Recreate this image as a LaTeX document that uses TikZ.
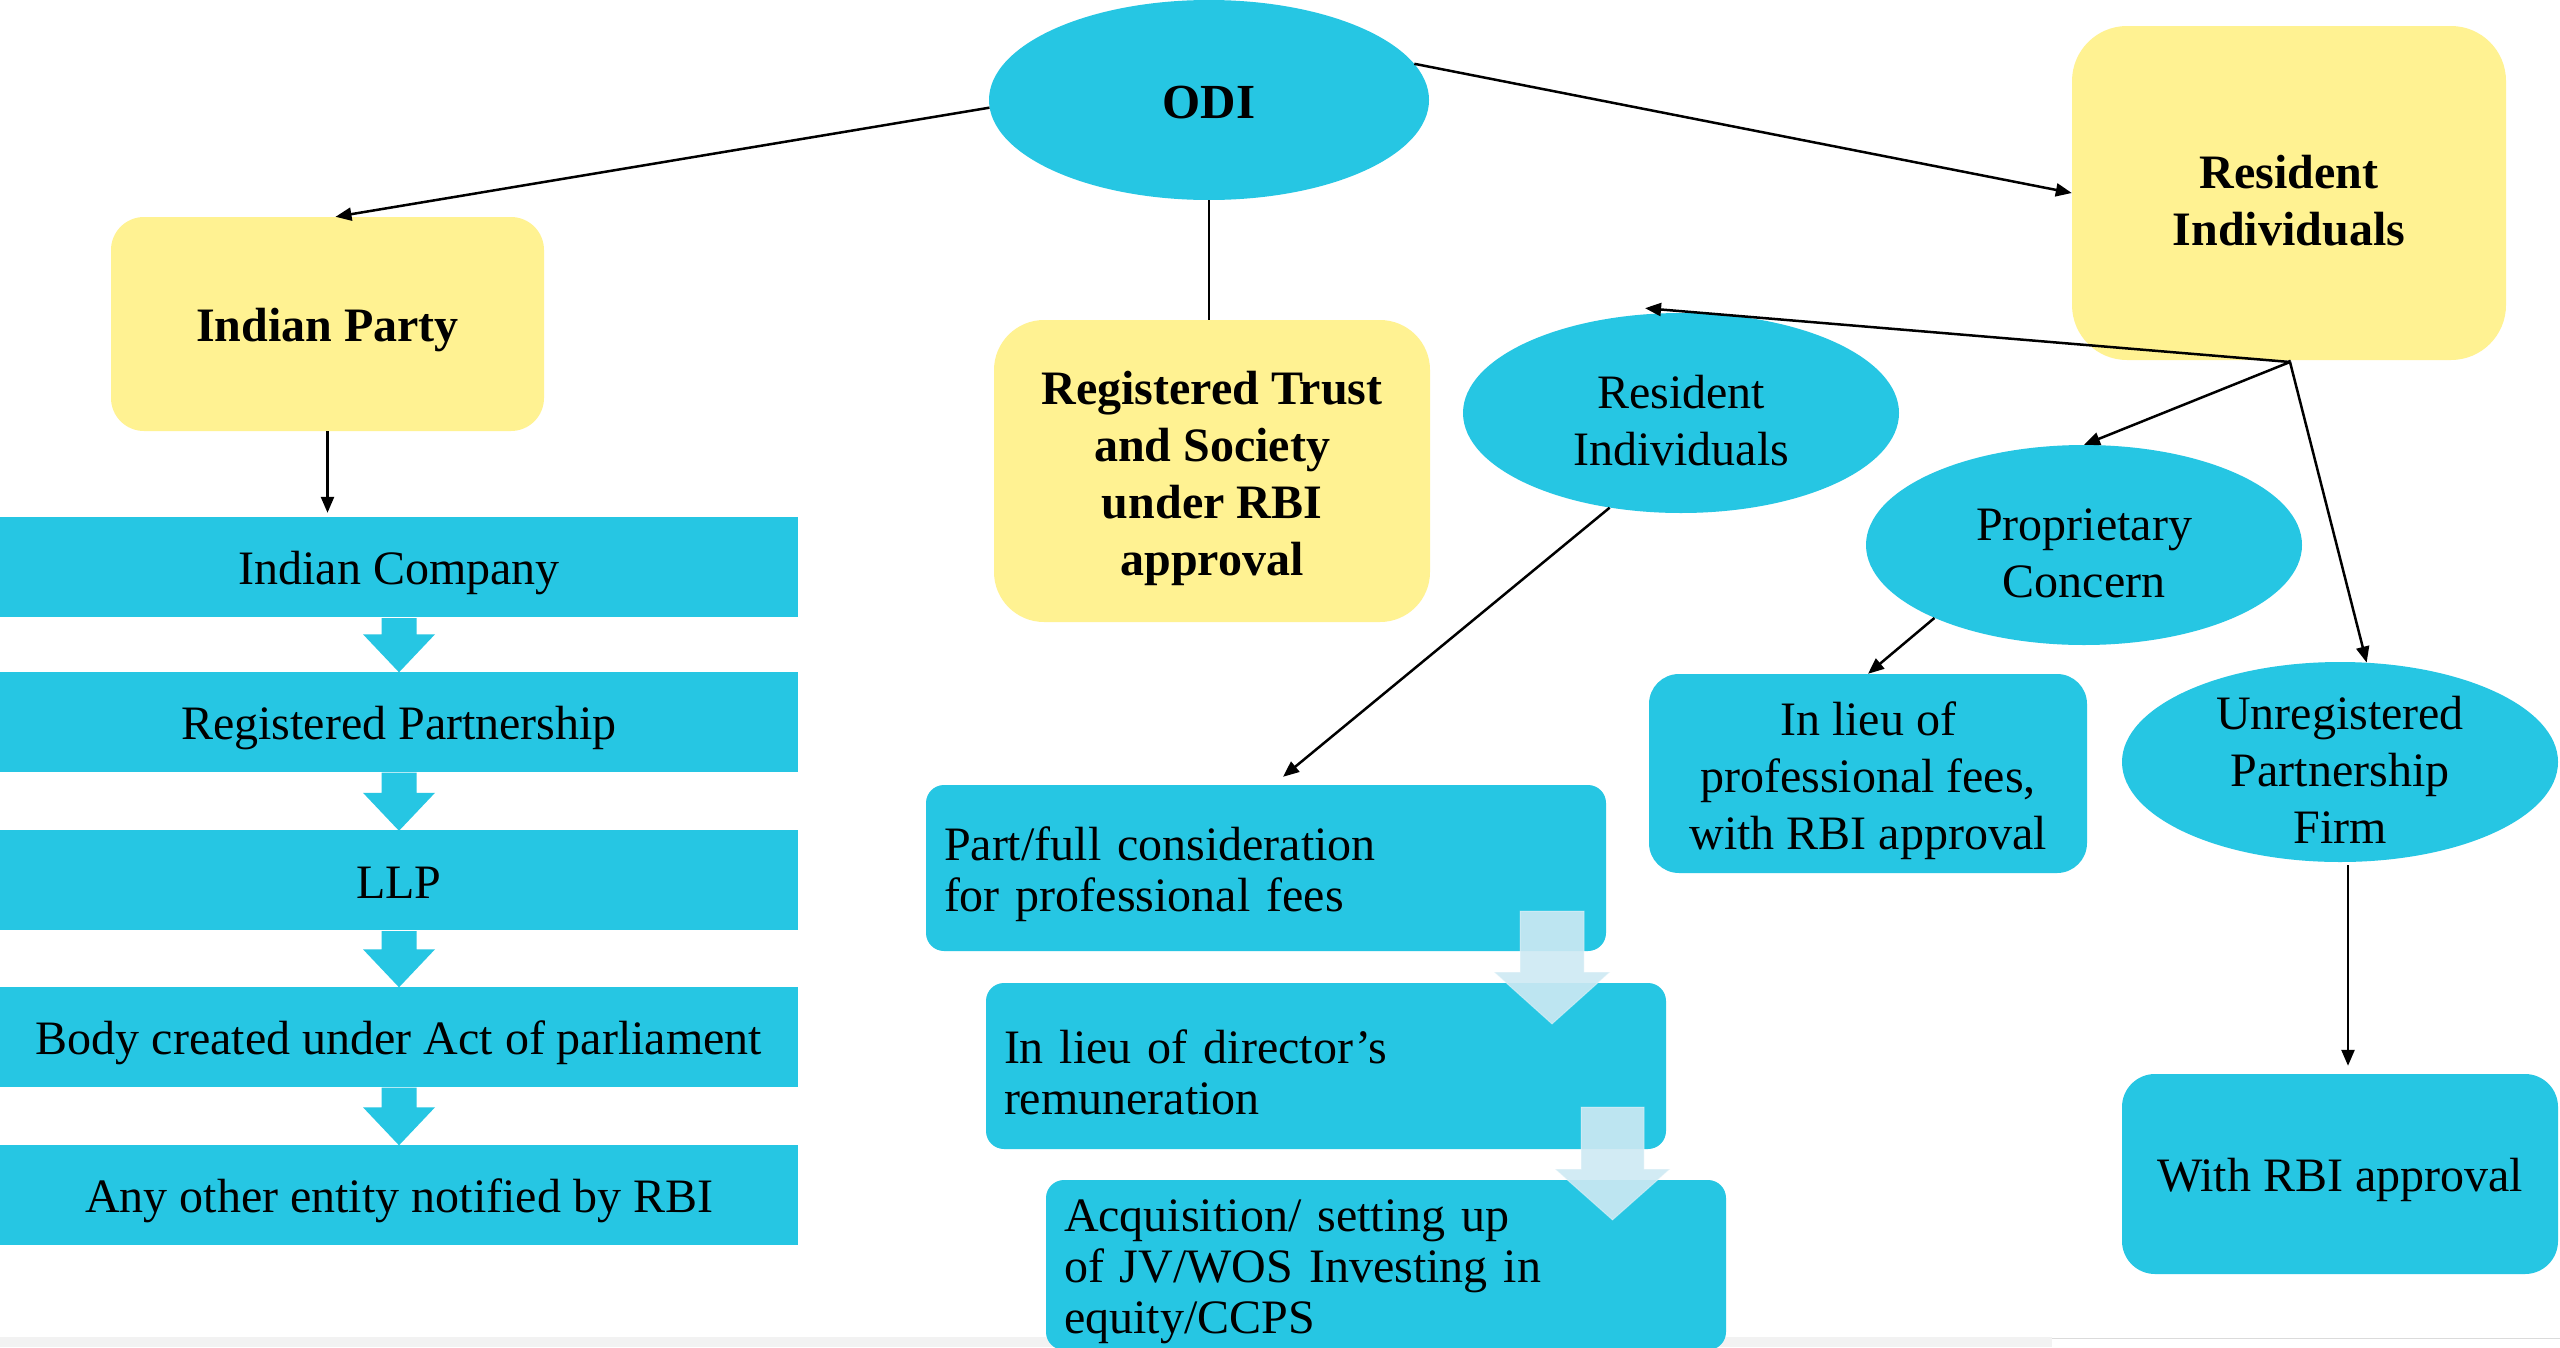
\documentclass[tikz,border=0pt]{standalone}
\usepackage{fontspec}
\setmainfont{Liberation Serif}
\usetikzlibrary{shapes.geometric,arrows.meta,calc}

\definecolor{odiblue}{RGB}{38,198,227}
\definecolor{padyellow}{RGB}{255,242,146}
\definecolor{paleblue}{RGB}{206,233,243}
\definecolor{stripgray}{RGB}{242,242,242}

% tall first-line strut: sets a text block slightly below the centre of its shape
\newcommand{\firststrut}{\rule{0pt}{48pt}}

% solid arrow joining two stacked bars of the left column
\newcommand{\stackarrow}[2]{%
  \fill[odiblue] ($(#1.south)+(-17.5,1)$) -- ($(#1.south)+(17.5,1)$)
    -- ($(#2.north)+(17.5,-37)$) -- ($(#2.north)+(36,-37)$)
    -- ($(#2.north)+(0,1)$) -- ($(#2.north)+(-36,-37)$)
    -- ($(#2.north)+(-17.5,-37)$) -- cycle;}

\begin{document}
\begin{tikzpicture}[x=1pt,y=-1pt,
  every node/.style={inner sep=0pt, text=black, font=\fontsize{48}{57}\selectfont},
  sline/.style={execute at begin node={\rule{0pt}{46pt}},
    execute at end node={\rule[-10pt]{0pt}{10pt}}},
  mline/.style={execute at begin node={\rule{0pt}{46pt}}},
  yellowbox/.style={rectangle, fill=padyellow, rounded corners=#1, align=center,
    font=\fontsize{48}{57}\selectfont\bfseries},
  bar/.style={rectangle, fill=odiblue, minimum width=798pt, minimum height=100pt, sline},
  bluebox/.style={rectangle, fill=odiblue, rounded corners=#1, align=center},
  notebox/.style={rectangle, fill=odiblue, rounded corners=18pt, align=left,
    text width=644pt, inner xsep=18pt, font=\fontsize{48}{51}\selectfont, mline},
  ell/.style={ellipse, fill=odiblue, inner sep=-30pt, align=center,
    minimum width=436pt, minimum height=200pt},
  conn/.style={line width=2.5pt, -{Triangle[length=16pt,width=13pt]}},
  plainline/.style={line width=2.5pt},
  palearrow/.style={fill=paleblue, fill opacity=0.9, draw=white, draw opacity=0.35, line width=1pt}
]
\useasboundingbox (0,0) rectangle (2560,1347);
\fill[white] (0,0) rectangle (2560,1347);

% grey strip along the lower edge
\fill[stripgray] (0,1337) rectangle (2052,1347);
\draw[stripgray!80!gray, line width=1pt] (2052,1338) -- (2560,1338);

% top level
\node[ellipse, fill=odiblue, minimum width=440pt, minimum height=200pt, sline,
      font=\fontsize{49}{57}\selectfont\bfseries] (odi) at (1209,100) {ODI};

\node[yellowbox=33pt, minimum width=433pt, minimum height=214pt, sline] (iparty) at (327.5,324) {Indian Party};
\node[yellowbox=50pt, minimum width=436pt, minimum height=302pt] (trust) at (1212,471)
  {\firststrut Registered Trust\\and Society\\under RBI\\approval};
\node[yellowbox=55pt, minimum width=434pt, minimum height=334pt] (rind) at (2289,193)
  {\firststrut Resident\\Individuals};

% left column
\node[bar] (comp) at (399,567)    {Indian Company};
\node[bar] (rpart) at (399,721.5) {Registered Partnership};
\node[bar] (llp) at (399,880)     {LLP};
\node[bar] (body) at (399,1036.5) {Body created under Act of parliament};
\node[bar] (other) at (399,1194.5){Any other entity notified by RBI};
\stackarrow{comp}{rpart}
\stackarrow{rpart}{llp}
\stackarrow{llp}{body}
\stackarrow{body}{other}

% resident individuals branch
\node[ell] (rie) at (1681,413) {\firststrut Resident\\Individuals};
\node[ell] (pc) at (2084,545) {\firststrut Proprietary\\Concern};
\node[ell] (upf) at (2340,762) {\firststrut Unregistered\\Partnership\\Firm};

\node[bluebox=30pt, minimum width=438pt, minimum height=199pt] (lieu) at (1868,773.5)
  {\firststrut In lieu of\\professional fees,\\with RBI approval};
\node[bluebox=33pt, minimum width=436pt, minimum height=200pt, sline] (rbi) at (2340,1174)
  {With RBI approval};

\node[notebox, minimum height=166pt] (part) at (1266,868)
  {Part/full consideration\\for professional fees};
\node[notebox, minimum height=166pt] (dir) at (1326,1066)
  {In lieu of director’s\\remuneration};
\node[notebox, minimum height=170pt] (acq) at (1386,1265)
  {Acquisition/ setting up\\of JV/WOS Investing in\\equity/CCPS};

% pale arrows between the stacked notes
\path[palearrow] (1520,911) -- (1584,911) -- (1584,972) -- (1610,972) -- (1552,1024)
  -- (1494,972) -- (1520,972) -- cycle;
\path[palearrow] (1581,1107) -- (1644,1107) -- (1644,1169) -- (1670,1169) -- (1612.5,1220)
  -- (1555,1169) -- (1581,1169) -- cycle;

% connectors
\coordinate (hub) at (2290,362);
\draw[conn] (odi.182) -- ([xshift=8pt]iparty.north);
\draw[conn] (odi.10) -- (rind.west);
\draw[plainline] (odi.south) -- (odi.south |- trust.north);
\draw[conn, shorten >=4pt] (iparty.south) -- (iparty.south |- comp.north);

\draw[plainline] (rind.south) -- (hub);
\draw[conn] (hub) -- ([yshift=6pt]rie.110);
\draw[conn] (hub) -- (pc.north);
\draw[conn] (hub) -- (upf.75);

\draw[conn] (rie.233) -- ([xshift=17pt,yshift=8pt]part.north);
\draw[conn] (pc.206) -- (lieu.north);
\draw[conn, shorten >=8pt] ([xshift=8pt,yshift=-3pt]upf.south) -- ([xshift=8pt]rbi.north);
\end{tikzpicture}
\end{document}
